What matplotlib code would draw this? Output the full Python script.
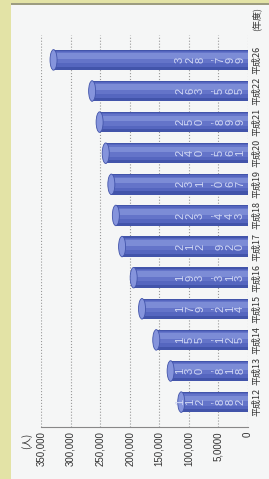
import matplotlib
matplotlib.use("Agg")
import matplotlib.pyplot as plt
from matplotlib.patches import Ellipse, Rectangle

plt.rcParams["font.family"] = ["Noto Sans CJK JP", "DejaVu Sans"]

# data (平成12 .. 平成26, people)
years = ["平成12", "平成13", "平成14", "平成15", "平成16", "平成17",
         "平成18", "平成19", "平成20", "平成21", "平成22", "平成26"]
values = [112882, 130818, 155125, 179214, 193313, 212920,
          223443, 231067, 240561, 250899, 263565, 328799]
bar_labels = ["112,882", "130,818", "155,125", "179,214", "193,313", "212 920",
              "223,443", "231,067", "240,561", "250,899", "263,565", "328,799"]
ticks = [0, 50000, 100000, 150000, 200000, 250000, 300000, 350000]
tick_labels = ["0", "5,0000", "100,000", "150,000", "200,000", "250,000",
               "300,000", "350,000"]

W, H = 269, 479
fig = plt.figure(figsize=(W / 100, H / 100), dpi=100, facecolor="#e3e3a6")
# white page panel + top border
fig.patches.append(Rectangle((11 / W, 0), 1, (H - 5) / H, transform=fig.transFigure,
                             facecolor="#f5f6f6", edgecolor="none", zorder=-10))
fig.patches.append(Rectangle((11 / W, (H - 5) / H), 1, 2 / H, transform=fig.transFigure,
                             facecolor="#9c9c80", edgecolor="none", zorder=-10))

ax = fig.add_axes([41 / W, (H - 427) / H, 207 / W, 392 / H])
ax.set_facecolor("none")
ax.set_zorder(5)

pos = list(range(len(years)))
h = 0.66
ax.barh(pos, values, height=h, left=0, color="#4254aa", zorder=3)
for dy, hh, col in [(0.03, 0.52, "#5566bf"), (0.07, 0.36, "#6474c9"),
                    (0.12, 0.18, "#7c8cd6")]:
    ax.barh([p + dy for p in pos], values, height=hh, left=0, color=col, zorder=3)

cap_w = 7 * 350000 / 207
for p, v in zip(pos, values):
    ax.add_patch(Ellipse((v, p), cap_w, h, facecolor="#8594dc",
                         edgecolor="#4254aa", lw=0.6, zorder=4))

# vertical-style value labels: digits rotated, stacked along the bar
for p, s in zip(pos, bar_labels):
    off = 8
    for ch in reversed(s):
        if ch.strip():
            ax.annotate(ch, xy=(0, p), xytext=(-off, 0), textcoords="offset pixels",
                        rotation=90, ha="center", va="center", fontsize=8,
                        family=["Liberation Sans", "DejaVu Sans"],
                        color="#d2d9f4", zorder=5)
        off += 10

ax.set_xlim(350000, 0)
ax.set_ylim(-0.8, len(years) - 0.2)

ax.set_xticks(ticks)
ax.set_xticklabels(tick_labels, rotation=90, fontsize=7, color="#333333",
                   family=["Liberation Sans", "DejaVu Sans"], va="top")
ax.yaxis.tick_right()
ax.set_yticks(pos)
ax.set_yticklabels(years, rotation=90, fontsize=6.5, color="#333333", va="center")
ax.tick_params(length=0, pad=3)

ax.grid(axis="x", linestyle=":", color="#999999", lw=0.8)
ax.set_axisbelow(True)
for side in ["top", "left", "right"]:
    ax.spines[side].set_visible(False)
ax.spines["bottom"].set_color("#888888")
ax.spines["bottom"].set_linewidth(0.8)

ax.text(-0.07, -0.015, "(人)", transform=ax.transAxes, rotation=90,
        ha="center", va="top", fontsize=7, color="#333333")
ax.text(1.04, 1.01, "(年度)", transform=ax.transAxes, rotation=90,
        ha="center", va="bottom", fontsize=6.5, color="#333333")

fig.savefig("out.png", dpi=100, facecolor=fig.get_facecolor())
